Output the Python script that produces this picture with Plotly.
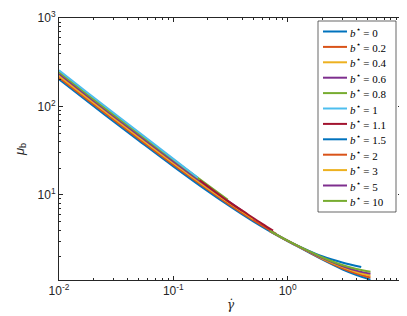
import plotly.graph_objects as go

# values (log-log, gamma_dot vs mu_b)
b_labels = ['0', '0.2', '0.4', '0.6', '0.8', '1', '1.1', '1.5', '2', '3', '5', '10']

gd_b0 = [0.01, 0.02, 0.03, 0.05, 0.1, 0.2, 0.3, 0.5, 0.7, 1.0, 1.5, 2.0, 3.0, 4.4]
mu_b0 = [203, 101, 67.5, 41, 21, 11, 7.67, 5.0, 3.86, 3.0, 2.36, 2.02, 1.72, 1.53]

gd_b02 = [0.01, 0.02, 0.05, 0.1, 0.2, 0.3, 0.5, 0.8]
mu_b02 = [213, 106, 43, 21.9, 11.5, 7.97, 5.18, 3.6]

gd_b04 = [0.01, 0.02, 0.05, 0.1, 0.2, 0.3, 0.5]
mu_b04 = [223, 111, 45, 22.9, 11.9, 8.3, 5.35]

gd_b06 = [0.01, 0.02, 0.05, 0.1, 0.2, 0.4]
mu_b06 = [234, 116, 47, 23.9, 12.4, 6.6]

gd_b08 = [0.01, 0.02, 0.05, 0.1, 0.2, 0.3]
mu_b08 = [245, 121, 49, 24.9, 12.9, 8.8]

gd_b1 = [0.01, 0.02, 0.05, 0.1, 0.164]
mu_b1 = [257, 127, 51, 25.5, 15.6]

gd_b11 = [0.17, 0.2, 0.3, 0.45, 0.6, 0.745]
mu_b11 = [14.6, 12.5, 8.5, 6.0, 4.7, 3.95]

gd_hi = [0.7, 1.0, 1.5, 2.0, 3.0, 4.0, 5.3]
mu_b15 = [3.88, 3.0, 2.27, 1.86, 1.44, 1.24, 1.10]
mu_b2 = [3.89, 3.01, 2.29, 1.89, 1.48, 1.29, 1.16]
mu_b3 = [3.90, 3.02, 2.31, 1.92, 1.53, 1.34, 1.22]
mu_b5 = [3.91, 3.03, 2.32, 1.94, 1.57, 1.39, 1.28]
mu_b10 = [3.92, 3.04, 2.34, 1.97, 1.61, 1.45, 1.35]

series = [
    (gd_b0, mu_b0), (gd_b02, mu_b02), (gd_b04, mu_b04), (gd_b06, mu_b06),
    (gd_b08, mu_b08), (gd_b1, mu_b1), (gd_b11, mu_b11), (gd_hi, mu_b15),
    (gd_hi, mu_b2), (gd_hi, mu_b3), (gd_hi, mu_b5), (gd_hi, mu_b10),
]

colors = ['#0072BD', '#D95319', '#EDB120', '#7E2F8E', '#77AC30', '#4DBEEE', '#A2142F']

W, H = 407, 316
ML, MR, MT, MB = 51, 13, 10, 44
PW, PH = W - ML - MR, H - MT - MB


def px(x):
    return (x - ML) / PW


def py(y):
    return 1 - (y - MT) / PH


fig = go.Figure()
for i, (label, (x, y)) in enumerate(zip(b_labels, series)):
    fig.add_trace(go.Scatter(
        x=x, y=y, mode='lines',
        line=dict(color=colors[i % len(colors)], width=2, shape='spline'),
        name=f'b* = {label}', showlegend=False,
    ))

# MATLAB-style legend box, drawn by hand so the rows keep the tight spacing
shapes = [dict(type='rect', xref='paper', yref='paper', layer='above',
               x0=px(310), x1=px(388), y0=py(204), y1=py(13),
               line=dict(color='#262626', width=0.7), fillcolor='white')]
annotations = []
for i, label in enumerate(b_labels):
    yy = 23.5 + i * 15.4
    shapes.append(dict(type='line', xref='paper', yref='paper', layer='above',
                       x0=px(315), x1=px(339), y0=py(yy), y1=py(yy),
                       line=dict(color=colors[i % len(colors)], width=2)))
    annotations.append(dict(
        xref='paper', yref='paper', x=px(340), y=py(yy),
        xanchor='left', yanchor='middle', showarrow=False,
        text=f'<i>b</i><sup>⋆</sup> = {label}',
        font=dict(family='Liberation Serif', size=11, color='black'),
    ))

tick_font = dict(family='Liberation Sans, Arial', size=12, color='#262626')
axis_common = dict(
    type='log', showgrid=False, zeroline=False, automargin=False,
    showline=True, linecolor='#262626', linewidth=1, mirror='allticks',
    ticks='inside', ticklen=4, tickcolor='#262626', dtick=1,
    minor=dict(ticks='inside', ticklen=2, tickcolor='#262626', dtick='D1'),
    tickfont=tick_font,
)

nb = '\u00a0'
fig.update_xaxes(
    **axis_common,
    range=[-2, 1],
    tickvals=[0.01, 0.1, 1, 10],
    ticktext=['10<sup>-2</sup>', '10<sup>-1</sup>', '10<sup>0</sup>', '10<sup>1</sup>' + nb * 3],
    title=dict(text='<i>γ̇</i>', font=dict(family='DejaVu Serif', size=12, color='#262626'), standoff=3),
)
fig.update_yaxes(
    **axis_common,
    range=[0.037, 3],
    tickvals=[10, 100, 1000],
    ticktext=['10<sup>1</sup>', '10<sup>2</sup>', '10<sup>3</sup>'],
    title=dict(text='<i>μ</i><sub>b</sub>', font=dict(family='Liberation Sans, Arial', size=13, color='#262626'), standoff=10),
)

fig.update_layout(
    width=W, height=H,
    margin=dict(l=ML, r=MR, t=MT, b=MB),
    plot_bgcolor='white', paper_bgcolor='white',
    showlegend=False,
    shapes=shapes,
    annotations=annotations,
)

fig.write_html('out.html')
